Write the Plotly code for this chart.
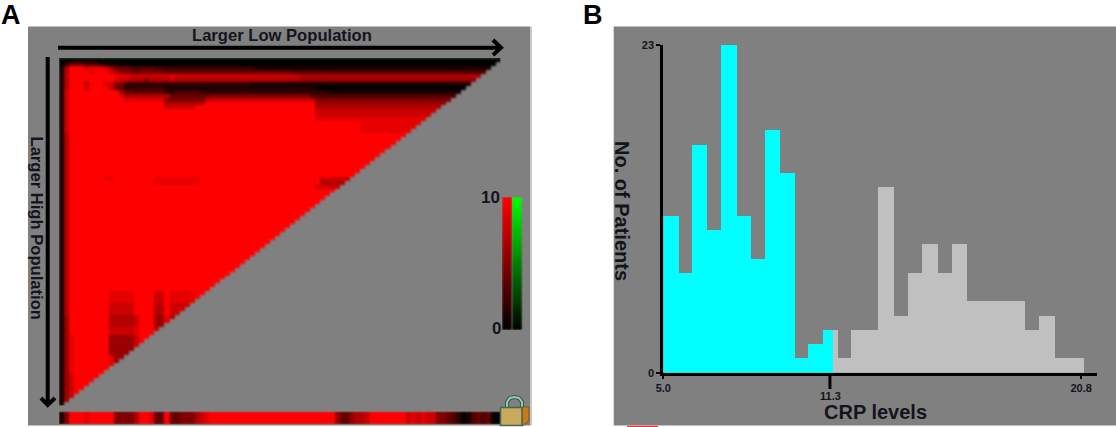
import plotly.graph_objects as go

W, H = 1116, 427

# ---------- panel A : heat map rows, top to bottom, as (repeat, [(value, run), ...]) ----------
MAIN = [(1, 1), (7, 1), (10, 86)]
row_bands = [
    (1, [(0, 88)]),
    (1, [(0, 1), (2, 1), (4, 3), (3, 3), (1, 4), (0, 76)]),
    (1, [(1, 1), (6, 1), (10, 3), (8, 1), (9, 3), (8, 1), (6, 1), (4, 3), (3, 5), (2, 20), (1, 49)]),
    (1, [(1, 1), (7, 1), (10, 4), (9, 1), (10, 3), (8, 1), (7, 1), (5, 3), (4, 1), (5, 5), (4, 25), (3, 42)]),
    (1, [(1, 1), (7, 1), (10, 9), (9, 3), (8, 8), (9, 1), (8, 25), (7, 40)]),
    (1, [(1, 1), (7, 1), (10, 9), (9, 1), (8, 2), (7, 3), (5, 1), (7, 4), (8, 1), (7, 25), (6, 40)]),
    (1, [(1, 1), (7, 1), (10, 3), (7, 1), (10, 3), (8, 2), (5, 2), (2, 25), (1, 50)]),
    (1, [(1, 1), (7, 1), (10, 3), (8, 1), (10, 4), (8, 1), (4, 2), (2, 8), (1, 30), (0, 37)]),
    (1, [(1, 1), (8, 1), (10, 10), (6, 1), (4, 2), (3, 1), (4, 5), (2, 2), (3, 5), (2, 25), (1, 35)]),
    (1, [(1, 1), (8, 1), (10, 10), (9, 1), (7, 9), (4, 8), (5, 20), (3, 38)]),
    (1, [(1, 1), (8, 1), (10, 11), (9, 8), (5, 8), (8, 22), (5, 37)]),
    (1, [(1, 1), (8, 1), (10, 19), (7, 8), (10, 22), (6, 37)]),
    (1, [(1, 1), (8, 1), (10, 19), (8, 6), (10, 24), (7, 37)]),
    (1, [(1, 1), (8, 1), (10, 49), (8, 37)]),
    (1, [(1, 1), (8, 1), (10, 49), (8, 37)]),
    (1, [(1, 1), (8, 1), (10, 49), (9, 37)]),
    (3, [(1, 1), (8, 1), (10, 58), (9, 28)]),
    (11, MAIN),
    (1, [(1, 1), (7, 1), (10, 7), (9, 2), (10, 8), (9, 9), (10, 24), (8, 8), (10, 28)]),
    (1, [(1, 1), (7, 1), (10, 17), (9, 9), (10, 24), (7, 8), (10, 28)]),
    (1, [(1, 1), (7, 1), (10, 49), (8, 6), (10, 31)]),
    (26, MAIN),
    (3, [(1, 1), (7, 1), (10, 8), (9, 5), (10, 4), (8, 2), (10, 1), (9, 5), (10, 61)]),
    (3, [(1, 1), (7, 1), (10, 8), (8, 5), (10, 4), (7, 2), (10, 1), (8, 4), (10, 62)]),
    (3, [(1, 1), (6, 1), (10, 8), (7, 5), (8, 1), (10, 3), (6, 2), (9, 1), (7, 3), (10, 63)]),
    (2, [(1, 1), (6, 1), (10, 8), (8, 5), (9, 1), (10, 3), (8, 2), (10, 67)]),
    (5, [(1, 1), (6, 1), (9, 1), (10, 7), (6, 5), (8, 1), (10, 72)]),
    (5, [(1, 1), (6, 1), (9, 1), (10, 7), (9, 1), (6, 2), (10, 75)]),
    (8, [(1, 1), (6, 1), (8, 1), (10, 85)]),
]
# panel A : strip under the triangle, one value per column
strip_values = [1, 5, 10, 10, 10, 9, 10, 10, 10, 10, 10, 5, 5, 5, 5, 7, 10, 10, 9, 4, 4, 10, 4, 4,
                5, 5, 5, 7, 8, 9] + [10] * 25 + [6, 4, 4, 6, 7, 7, 8] + [10] * 7 + \
               [8, 9, 8, 9, 8, 8, 5, 5, 4, 3, 2, 0, 1, 3, 4, 3, 4, 0, 0]
# panel A : colour key
key_values = [0, 1, 2, 3, 4, 5, 6, 7, 8, 9, 10]
key_labels = ["10", "0"]

# ---------- panel B : histogram ----------
low_edges = [5.00, 5.59, 6.09, 6.68, 7.18, 7.79, 8.33, 8.84, 9.42, 9.98, 10.48, 11.04, 11.43]
low_counts = [11, 7, 16, 10, 23, 11, 8, 17, 14, 1, 2, 3]
high_edges = [11.43, 11.63, 12.09, 12.63, 13.14, 13.73, 14.26, 14.81, 15.40, 15.91, 16.49,
              17.05, 17.60, 18.15, 18.70, 19.23, 19.81, 20.36, 20.92]
high_counts = [3, 1, 3, 3, 13, 4, 7, 9, 7, 9, 5, 5, 5, 5, 3, 4, 1, 1]
x_ticks = [5.0, 20.8]
x_tick_text = ["5.0", "20.8"]
cut_value = 11.3
y_ticks = [0, 23]

INK = "#14141c"
FONT = "Liberation Sans"


def fx(p):
    return p / W


def fy(p):
    return 1 - p / H


def expand(runs):
    out = []
    for v, n in runs:
        out += [v] * n
    return (out + [runs[-1][0]] * 88)[:88]


z = []
for rep, runs in row_bands:
    for _ in range(rep):
        r = expand(runs)
        i = len(z)
        z.append(r[:88 - i] + [None] * i)

fig = go.Figure()
red = [[0, "#000000"], [1, "#ff0000"]]
green = [[0, "#000000"], [1, "#00ff00"]]


def hm(z_, xa, ya, scale, smooth=None):
    fig.add_trace(go.Heatmap(z=z_, xaxis=xa, yaxis=ya, colorscale=scale, zmin=0, zmax=10,
                             showscale=False, hoverongaps=False, zsmooth=smooth if smooth else False))


hm(z, "x", "y", red)
hm([strip_values], "x2", "y2", red)
hm([[v, v] for v in key_values], "x3", "y3", red, "best")
hm([[v, v] for v in key_values], "x4", "y4", green, "best")

for edges, counts, col in ((high_edges, high_counts, "#c0c0c0"), (low_edges, low_counts, "#00ffff")):
    fig.add_trace(go.Bar(x=edges[:-1], y=counts, width=[b - a for a, b in zip(edges, edges[1:])],
                         offset=0, marker=dict(color=col, line=dict(width=0)),
                         xaxis="x5", yaxis="y5", showlegend=False))


def hidden(dom, **kw):
    return dict(domain=dom, visible=False, fixedrange=True, automargin=False, **kw)


PX_PER = 26.45
x5_left, x5_right = 663.3, 1097.0

layout = dict(
    width=W, height=H, margin=dict(l=0, r=0, t=0, b=0, autoexpand=False), paper_bgcolor="#ffffff",
    plot_bgcolor="rgba(0,0,0,0)", showlegend=False, barmode="overlay", bargap=0,
    xaxis=hidden([fx(59), fx(500.5)], range=[-0.5, 87.5], anchor="y"),
    yaxis=hidden([fy(405.5), fy(58)], range=[87.5, -0.5], anchor="x"),
    xaxis2=hidden([fx(59), fx(500.5)], range=[-0.5, 87.5], anchor="y2"),
    yaxis2=hidden([fy(424), fy(411.5)], range=[-0.5, 0.5], anchor="x2"),
    xaxis3=hidden([fx(502), fx(512)], range=[0, 1], anchor="y3"),
    yaxis3=hidden([fy(330), fy(197)], range=[0, 10], anchor="x3"),
    xaxis4=hidden([fx(512), fx(522.5)], range=[0, 1], anchor="y4"),
    yaxis4=hidden([fy(330), fy(197)], range=[0, 10], anchor="x4"),
    xaxis5=dict(domain=[fx(x5_left), fx(x5_right)], range=[5.0, 5.0 + (x5_right - x5_left) / PX_PER],
                anchor="y5", showline=True, linecolor="#000000", linewidth=3, showgrid=False, zeroline=False,
                tickvals=x_ticks, ticktext=x_tick_text, ticks="outside", ticklen=3, tickwidth=2, automargin=False,
                tickcolor="#000000", tickfont=dict(family=FONT, size=11, color=INK, weight="bold"),
                fixedrange=True),
    yaxis5=dict(domain=[fy(372.7), fy(45)], range=[0, 23], anchor="x5", showline=True, linecolor="#000000",
                linewidth=3, showgrid=False, zeroline=False, tickvals=y_ticks, ticks="outside", ticklen=4,
                tickwidth=2, tickcolor="#000000", fixedrange=True, automargin=False,
                tickfont=dict(family=FONT, size=11, color=INK, weight="bold")),
)


def rect(x0, y0, x1, y1, color, layer="below", line=None):
    return dict(type="rect", xref="paper", yref="paper", x0=fx(x0), x1=fx(x1), y0=fy(y0), y1=fy(y1),
                fillcolor=color, line=line or dict(width=0), layer=layer)


def path(pts, color, width, fill=None, close=False):
    d = "M " + " L ".join(f"{fx(a):.5f},{fy(b):.5f}" for a, b in pts) + (" Z" if close else "")
    s = dict(type="path", xref="paper", yref="paper", path=d, line=dict(color=color, width=width), layer="above")
    if fill:
        s["fillcolor"] = fill
    return s


shapes = [
    rect(28, 26.5, 530, 425.5, "#808080"),
    rect(530, 26.5, 532, 425.5, "#c8c8c8"),
    rect(613.7, 26.5, 1116, 425.5, "#808080"),
    rect(627, 425.8, 658, 427, "#d8393f"),
    path([(58, 47.7), (500, 47.7)], "#000000", 4),
    path([(493, 40), (501, 47.7), (493, 55)], "#000000", 4),
    path([(47.7, 57), (47.7, 404)], "#000000", 4),
    path([(41, 398), (47.7, 405), (55, 398)], "#000000", 4),
    path([(59, 58.7), (500, 58.7)], "#0c2a0c", 1.5),
    dict(type="line", xref="x5", yref="paper", x0=cut_value, x1=cut_value, y0=fy(375), y1=fy(389),
         line=dict(color="#000000", width=3), layer="above"),
    # padlock
    path([(507, 408), (507, 402), (510, 398), (514.5, 397), (519, 398), (522, 402), (522, 408)], "#2f5a48", 4),
    path([(507, 408), (507, 402), (510, 398), (514.5, 397), (519, 398), (522, 402), (522, 408)], "#9cc8ac", 2),
    path([(522, 407), (529, 407), (529, 421), (522, 426)], "#7a5a20", 1, fill="#c87a18", close=True),
    rect(500.5, 407.5, 522, 425.5, "#c9a95c", layer="above", line=dict(color="#3f6a55", width=1.5)),
]
layout["shapes"] = shapes


def note(text, x, y, size, angle=0, bold=False, xref="paper", color=INK):
    return dict(text=f"<b>{text}</b>" if bold else text, x=(x if xref != "paper" else fx(x)), y=fy(y),
                xref=xref, yref="paper", showarrow=False, textangle=angle, xanchor="center", yanchor="middle",
                font=dict(family=FONT, size=size, color=color))


layout["annotations"] = [
    note("A", 10.5, 14.5, 27, bold=True, color="#000000"),
    note("B", 593, 14.5, 27, bold=True, color="#000000"),
    note("Larger Low Population", 282, 35.5, 16.6, bold=True),
    note("Larger High Population", 36.5, 228, 16.6, angle=90, bold=True),
    note(key_labels[0], 490, 197.5, 17, bold=True),
    note(key_labels[1], 496, 328, 17, bold=True),
    note("No. of Patients", 622, 211, 20, angle=90, bold=True),
    note("CRP levels", 875, 412, 20, bold=True),
    note("11.3", cut_value + 0.04, 396, 11, bold=True, xref="x5"),
]

fig.update_layout(**layout)
fig.write_html("out.html", config=dict(displayModeBar=False), post_script="""
var s=document.createElement('style');
s.textContent='html,body{margin:0!important;padding:0!important;overflow:hidden} .hm image{filter:blur(1.3px)}';
document.head.appendChild(s);
""")
